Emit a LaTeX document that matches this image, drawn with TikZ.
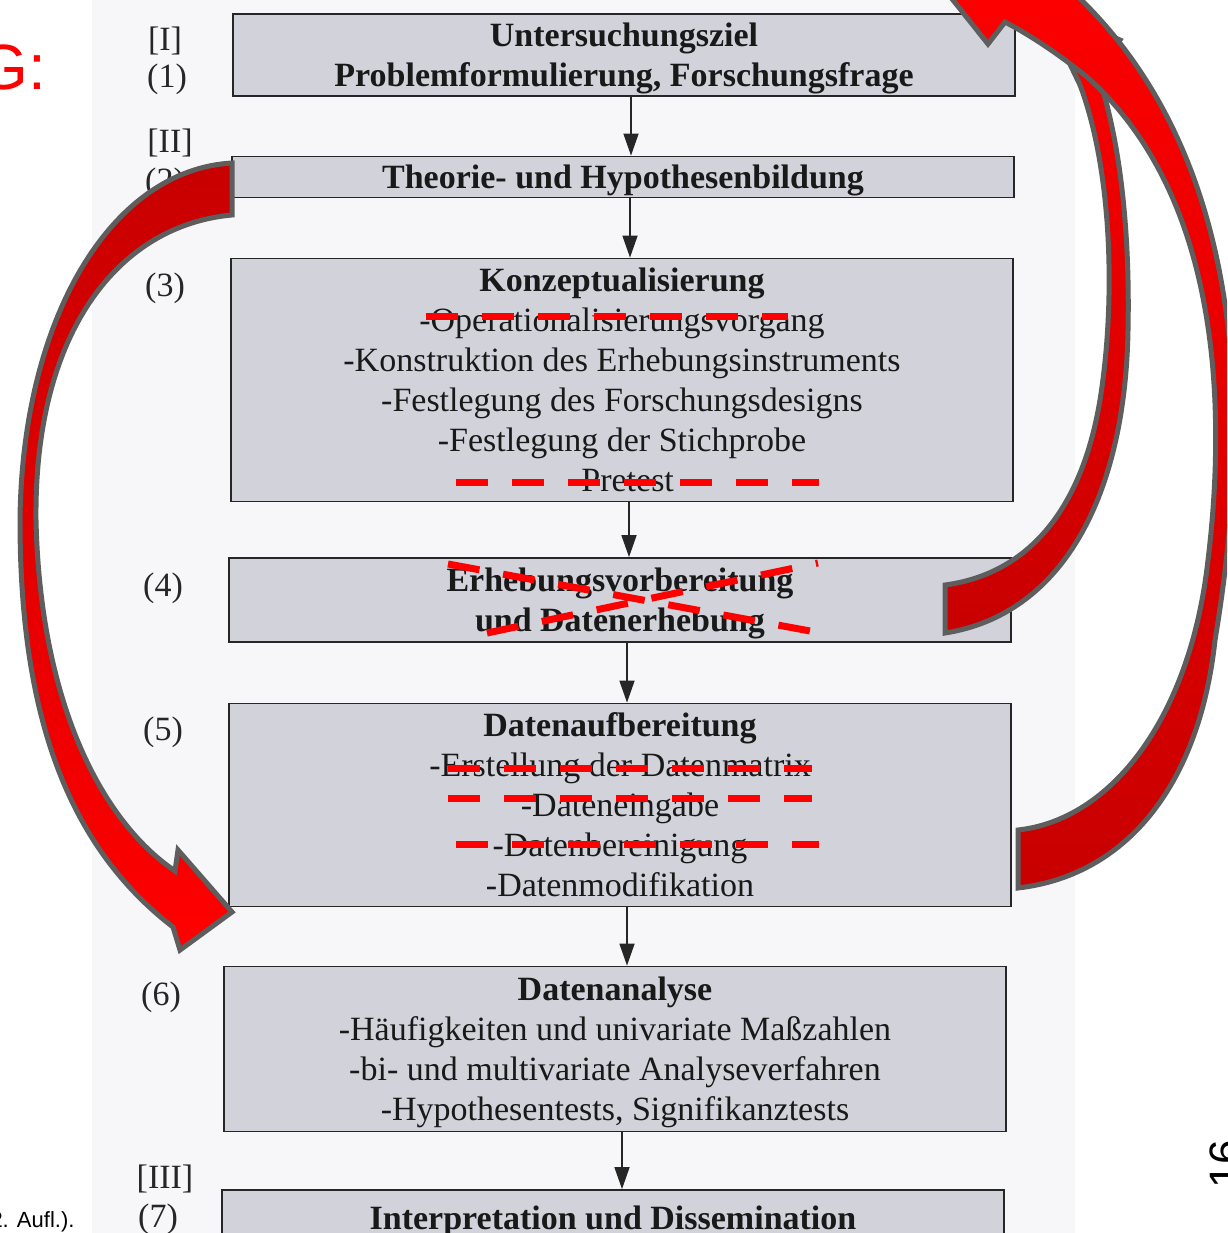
\documentclass[tikz,border=0pt]{standalone}
\usepackage{fontspec}
\setmainfont{Liberation Serif}
\newfontfamily\annofont{Liberation Sans}
\usepackage{tikz}
\usetikzlibrary{arrows.meta}

\definecolor{boxgray}{HTML}{D2D2DB}
\definecolor{pagegray}{HTML}{F7F7F9}
\definecolor{rimgray}{HTML}{5E5E5E}
\definecolor{darkred}{HTML}{C80000}

\tikzset{
  stage/.style={draw=black!85, line width=1.8pt, fill=boxgray, minimum width=782pt,
    inner sep=0pt, align=center, text depth=0pt, font=\fontsize{34}{40}\selectfont, text=black!90},
  numlabel/.style={font=\fontsize{34}{40}\selectfont, text=black!85},
  flow/.style={line width=1.6pt, black!85, -{Triangle[length=22pt,width=15pt]}},
  strike/.style={red, line width=7pt, dash pattern=on 32pt off 24pt},
  bigarrow/.style={draw=rimgray, line width=5pt},
}

\begin{document}
\begin{tikzpicture}[x=1pt,y=-1pt]
\useasboundingbox (0,0) rectangle (1227,1233);
\clip (0,0) rectangle (1227,1233);

% sfondo pagina
\fill[white] (0,0) rectangle (1227,1233);
\fill[pagegray] (92,0) rectangle (1075,1233);

%========================
% Riquadri
%========================

\node[stage, minimum height=82pt] (b1) at (624,55)
  {\textbf{Untersuchungsziel}\\\textbf{Problemformulierung, Forschungsfrage}};

\node[stage, minimum height=41pt] (b2) at (623,177)
  {\textbf{Theorie- und Hypothesenbildung}};

\node[stage, minimum height=243pt] (b3) at (622,380)
  {\textbf{Konzeptualisierung}\\-Operationalisierungsvorgang\\-Konstruktion des Erhebungsinstruments\\-Festlegung des Forschungsdesigns\\-Festlegung der Stichprobe\\-Pretest};

\node[stage, minimum height=84pt] (b4) at (620,600)
  {\textbf{Erhebungsvorbereitung}\\\textbf{und Datenerhebung}};

\node[stage, minimum height=203pt] (b5) at (620,805)
  {\textbf{Datenaufbereitung}\\-Erstellung der Datenmatrix\\-Dateneingabe\\-Datenbereinigung\\-Datenmodifikation};

\node[stage, minimum height=165pt] (b6) at (615,1049)
  {\textbf{Datenanalyse}\\-Häufigkeiten und univariate Maßzahlen\\-bi- und multivariate Analyseverfahren\\-Hypothesentests, Signifikanztests};

\node[stage, minimum height=56pt] (b7) at (613,1218)
  {\textbf{Interpretation und Dissemination}};

% frecce tra i riquadri
\foreach \a/\b in {b1/b2,b2/b3,b3/b4,b4/b5,b5/b6,b6/b7}
{
    \draw[flow] ([xshift=7pt]\a.south) -- ([xshift=7pt]\a.south |- \b.north);
}

% etichette
\node[numlabel] (s1) at (165,41) {[I]};
\node[numlabel] (n1) at (167,79) {(1)};
\node[numlabel] (s2) at (170,143) {[II]};
\node[numlabel] (n2) at (165,183) {(2)};
\node[numlabel] (n3) at (165,288) {(3)};
\node[numlabel] (n4) at (163,588) {(4)};
\node[numlabel] (n5) at (163,732) {(5)};
\node[numlabel] (n6) at (161,997) {(6)};
\node[numlabel] (s3) at (165,1179) {[III]};
\node[numlabel] (n7) at (158,1219) {(7)};

%========================
% Cancellature
%========================

\draw[strike] (426,316) -- (788,316);
\draw[strike] (456,482) -- (819,482);
\draw[strike] (448,564) -- (810,631);
\draw[strike] (487,633) -- (818,563);
\draw[strike] (448,768) -- (812,768);
\draw[strike] (448,798) -- (812,798);
\draw[strike] (456,844) -- (819,844);

%========================
% Frecce rosse
%========================

% sinistra: (2) -> (5)
\draw[bigarrow, top color=darkred, bottom color=red]
  (232,163) .. controls (110,170) and (22,320) .. (20,520)
  .. controls (20,700) and (60,840) .. (173,927)
  -- (180,950) -- (232,912) -- (178,850) -- (175,871)
  .. controls (100,820) and (40,700) .. (36,520)
  .. controls (34,330) and (120,225) .. (232,215) -- cycle;

% destra interna: (4) -> (1)
\draw[bigarrow, top color=red, bottom color=darkred]
  (945,585) .. controls (1020,575) and (1080,520) .. (1100,400)
  .. controls (1116,300) and (1112,170) .. (1080,85)
  -- (1068,60) -- (1005,-10) -- (1120,40) -- (1098,75)
  .. controls (1120,140) and (1130,230) .. (1128,330)
  .. controls (1125,500) and (1060,615) .. (945,633) -- cycle;

% destra esterna: (5) -> (1)
\draw[bigarrow, top color=red, bottom color=darkred]
  (1018,830) .. controls (1110,820) and (1190,720) .. (1208,560)
  .. controls (1225,420) and (1225,200) .. (1087,77)
  .. controls (1060,55) and (1030,35) .. (1005,22)
  -- (988,44) -- (925,-35) -- (1075,-45) -- (1062,-18)
  .. controls (1265,160) and (1245,460) .. (1215,640)
  .. controls (1200,780) and (1130,875) .. (1018,888) -- cycle;

%========================
% Testi a margine
%========================

\node[text=red, font=\annofont\fontsize{64}{68}\selectfont, anchor=base east] (gmark) at (50,90) {G:};
\node[font=\annofont\fontsize{22}{26}\selectfont, anchor=base east] (aufl) at (78,1227) {2. Aufl.).};
\node[font=\annofont\fontsize{44}{48}\selectfont, rotate=90, anchor=base west] (pnum) at (1240,1192) {16};
\end{tikzpicture}
\end{document}
